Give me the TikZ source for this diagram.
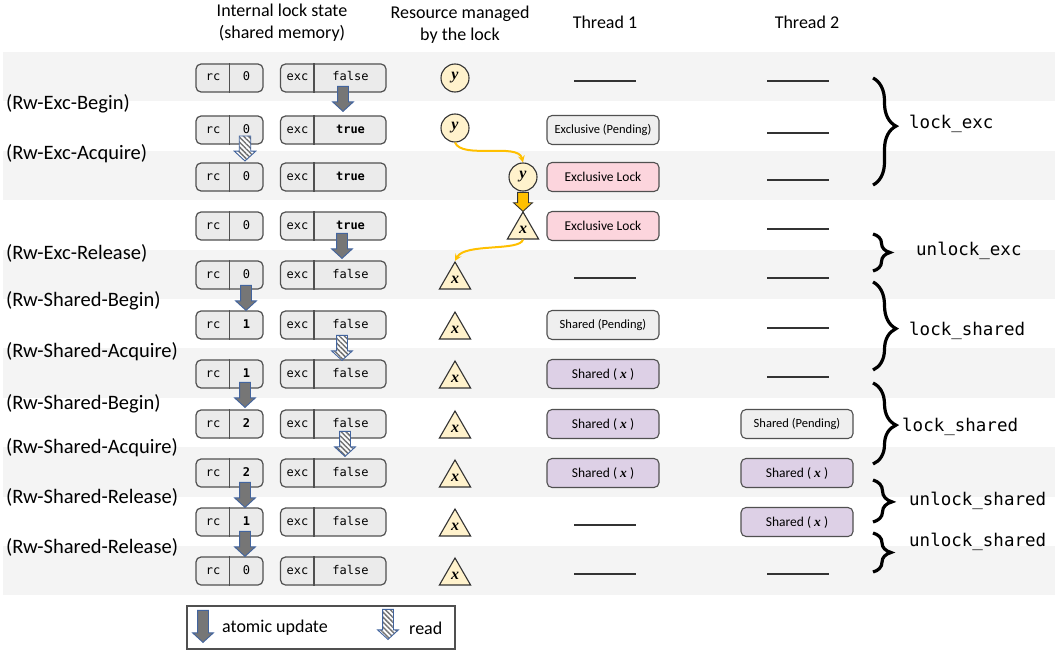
\documentclass[tikz,border=0pt]{standalone}
\usepackage{fontspec}
\setmainfont{Carlito}
\setmonofont{DejaVu Sans Mono}
\newfontfamily\resfont{Liberation Serif}
\usetikzlibrary{shapes.geometric,shapes.arrows,decorations.pathreplacing,patterns.meta}

\definecolor{bandgrey}{HTML}{F4F4F4}
\definecolor{cellgrey}{HTML}{EBEBEB}
\definecolor{edgegrey}{HTML}{505050}
\definecolor{resyellow}{HTML}{FFF2CC}
\definecolor{flowgold}{HTML}{FFC000}
\definecolor{updgrey}{HTML}{767676}
\definecolor{arrowblue}{HTML}{42649E}
\definecolor{pendgrey}{HTML}{EFEFEF}
\definecolor{excpink}{HTML}{FCD5DD}
\definecolor{shrlilac}{HTML}{DDD0E6}

\begin{document}
\begin{tikzpicture}[x=1pt,y=-1pt,
	hdr/.style={align=center, inner sep=0pt, font=\fontsize{18}{22}\selectfont},
	lbl/.style={anchor=west, inner sep=0pt, font=\fontsize{20.5}{24}\selectfont},
	cell/.style={draw=edgegrey, fill=cellgrey, line width=1.2pt, rounded corners=5pt, minimum height=28pt, inner sep=0pt},
	cellline/.style={draw=edgegrey, line width=1.2pt},
	celltxt/.style={inner sep=0pt, text height=8pt, text depth=2pt, text=black, font=\ttfamily\fontsize{12}{12}\selectfont},
	resc/.style={circle, draw=black!80, fill=resyellow, line width=1.1pt, minimum size=28pt, inner sep=0pt, font=\resfont\bfseries\itshape\fontsize{16}{16}\selectfont},
	rest/.style={regular polygon, regular polygon sides=3, draw=black!80, fill=resyellow, line width=1.1pt, minimum size=36pt, inner sep=0pt, font=\resfont\bfseries\itshape\fontsize{16}{16}\selectfont},
	goldflow/.style={draw=flowgold, line width=2pt, -stealth},
	tbox/.style={draw=edgegrey, line width=1.1pt, rounded corners=5pt, minimum width=112pt, minimum height=29pt, inner sep=0pt, font=\fontsize{13.5}{14}\selectfont},
	pend/.style={tbox, fill=pendgrey, font=\fontsize{12.5}{13}\selectfont},
	excl/.style={tbox, fill=excpink},
	shr/.style={tbox, fill=shrlilac},
	idle/.style={draw=black!80, line width=1.4pt},
	upd/.style={single arrow, rotate=-90, anchor=tip, draw=arrowblue, fill=updgrey, line width=0.9pt, inner xsep=0pt, inner ysep=5pt, text height=0pt, text depth=0pt, single arrow head extend=5pt, single arrow tip angle=95, minimum height=25pt},
	rd/.style={upd, pattern={Lines[angle=-45,distance=3.5pt,line width=1.5pt]}, pattern color=black!55, preaction={fill=white}},
	brc/.style 2 args={decorate, decoration={brace, amplitude=#1, aspect=#2}, line width=3.2pt},
	optxt/.style={anchor=west, inner sep=0pt, font=\ttfamily\fontsize{17.5}{18}\selectfont},
]
	\useasboundingbox (0,0) rectangle (1062,650);
	\fill[white] (0,0) rectangle (1062,650);
	\foreach \k in {0,2,...,10}
		\fill[bandgrey] (3,{52+49.4*\k}) rectangle (1055,{52+49.4*(\k+1)});

	% headers
	\node[hdr] (hdlock) at (282,23) {Internal lock state\\(shared memory)};
	\node[hdr] (hdres) at (460,25) {Resource managed\\by the lock};
	\node[hdr] (hdt1) at (605,22) {Thread 1};
	\node[hdr] (hdt2) at (807,22) {Thread 2};

	% rule names
	\node[lbl] (lbl1) at (6,104) {(Rw-Exc-Begin)};
	\node[lbl] (lbl2) at (6,154) {(Rw-Exc-Acquire)};
	\node[lbl] (lbl3) at (6,253) {(Rw-Exc-Release)};
	\node[lbl] (lbl4) at (6,301) {(Rw-Shared-Begin)};
	\node[lbl] (lbl5) at (6,352) {(Rw-Shared-Acquire)};
	\node[lbl] (lbl6) at (6,404) {(Rw-Shared-Begin)};
	\node[lbl] (lbl7) at (6,448) {(Rw-Shared-Acquire)};
	\node[lbl] (lbl8) at (6,497) {(Rw-Shared-Release)};
	\node[lbl] (lbl9) at (6,547) {(Rw-Shared-Release)};

	% lock state
	\foreach \r/\yy/\rcv/\excv in {1/78/0/false, 2/130/0/\textbf{true}, 3/177/0/\textbf{true},
			4/226/0/\textbf{true}, 5/275/0/false, 6/325/\textbf{1}/false, 7/374/\textbf{1}/false,
			8/424/\textbf{2}/false, 9/473/\textbf{2}/false, 10/522/\textbf{1}/false, 11/571/0/false}{
		\node[cell, minimum width=67pt] (rc\r) at (229.5,\yy) {};
		\node[cell, minimum width=105.5pt] (exc\r) at (333.25,\yy) {};
		\draw[cellline] ([xshift=34pt]rc\r.north west) -- ([xshift=34pt]rc\r.south west);
		\draw[cellline] ([xshift=34pt]exc\r.north west) -- ([xshift=34pt]exc\r.south west);
		\node[celltxt] (rcl\r) at (213,\yy) {rc};
		\node[celltxt] (rcv\r) at (246.5,\yy) {\rcv};
		\node[celltxt] (excl\r) at (297.5,\yy) {exc};
		\node[celltxt] (excv\r) at (350.5,\yy) {\excv};
	}

	\node[upd] (upd1) at (343,112) {};
	\node[rd] (rd1) at (245,162) {};
	\node[upd] (upd2) at (342,259) {};
	\node[upd] (upd3) at (246,311) {};
	\node[rd] (rd2) at (342,361) {};
	\node[upd] (upd4) at (245,408) {};
	\node[rd] (rd3) at (345,457) {};
	\node[upd] (upd5) at (245,508) {};
	\node[upd] (upd6) at (245,557) {};

	% resource
	\node[resc] (res1) at (455,78) {y};
	\node[resc] (res2) at (455,128) {y};
	\node[resc] (res3) at (523,177) {y};
	\node[rest] (tri4) at (523,230) {x};
	\node[rest] (tri5) at (455,280) {x};
	\node[rest] (tri6) at (455,330) {x};
	\node[rest] (tri7) at (455,379) {x};
	\node[rest] (tri8) at (455,429) {x};
	\node[rest] (tri9) at (455,478) {x};
	\node[rest] (tri10) at (455,527) {x};
	\node[rest] (tri11) at (455,576) {x};
	\node[upd, fill=flowgold, draw=black!80, minimum height=19pt, single arrow head extend=4pt] (gold1) at (523,212) {};
	\draw[goldflow] (res2.south) .. controls +(7,17) and +(-5,-20) .. (res3.north);
	\draw[goldflow] (tri4.south) .. controls +(-3,12) and +(10,-18) .. (tri5.north);

	% threads
	\node[pend] (t1r2) at (603,130) {Exclusive (Pending)};
	\node[excl] (t1r3) at (603,177) {Exclusive Lock};
	\node[excl] (t1r4) at (603,226) {Exclusive Lock};
	\node[pend] (t1r6) at (603,325) {Shared (Pending)};
	\node[shr] (t1r7) at (603,374) {Shared ( {\resfont\bfseries\itshape x} )};
	\node[shr] (t1r8) at (603,424) {Shared ( {\resfont\bfseries\itshape x} )};
	\node[shr] (t1r9) at (603,473) {Shared ( {\resfont\bfseries\itshape x} )};
	\node[pend] (t2r8) at (797,424) {Shared (Pending)};
	\node[shr] (t2r9) at (797,473) {Shared ( {\resfont\bfseries\itshape x} )};
	\node[shr] (t2r10) at (797,522) {Shared ( {\resfont\bfseries\itshape x} )};
	\foreach \yy in {78,275,522,571}
		\draw[idle] (574,\yy+3) -- (636,\yy+3);
	\foreach \yy in {78,130,177,226,275,325,374,571}
		\draw[idle] (767,\yy+3) -- (829,\yy+3);

	% operations
	\draw[brc={23pt}{0.45}] (873,78) -- (873,185);
	\node[optxt] (op1) at (909,124) {lock\_exc};
	\draw[brc={17pt}{0.5}] (873,234) -- (873,271);
	\node[optxt] (op2) at (916,251) {unlock\_exc};
	\draw[brc={23pt}{0.53}] (873,282) -- (873,370);
	\node[optxt] (op3) at (909,331) {lock\_shared};
	\draw[brc={23pt}{0.52}] (873,383) -- (873,464);
	\node[optxt] (op4) at (902,427) {lock\_shared};
	\draw[brc={19pt}{0.52}] (873,480) -- (873,522);
	\node[optxt] (op5) at (909,501) {unlock\_shared};
	\draw[brc={18pt}{0.5}] (873,533) -- (873,572);
	\node[optxt] (op6) at (909,542) {unlock\_shared};

	% legend
	\node[draw=edgegrey, line width=1.2pt, minimum width=268pt, minimum height=43pt, inner sep=0pt] (legend) at (321,627.5) {};
	\node[upd, minimum height=32pt] (legupd) at (203,643) {};
	\node[lbl, font=\fontsize{18}{20}\selectfont] (legupdtxt) at (222,628) {atomic update};
	\node[rd, minimum height=30pt] (legrd) at (388,640) {};
	\node[lbl, font=\fontsize{18}{20}\selectfont] (legrdtxt) at (409,628) {read};
\end{tikzpicture}
\end{document}
